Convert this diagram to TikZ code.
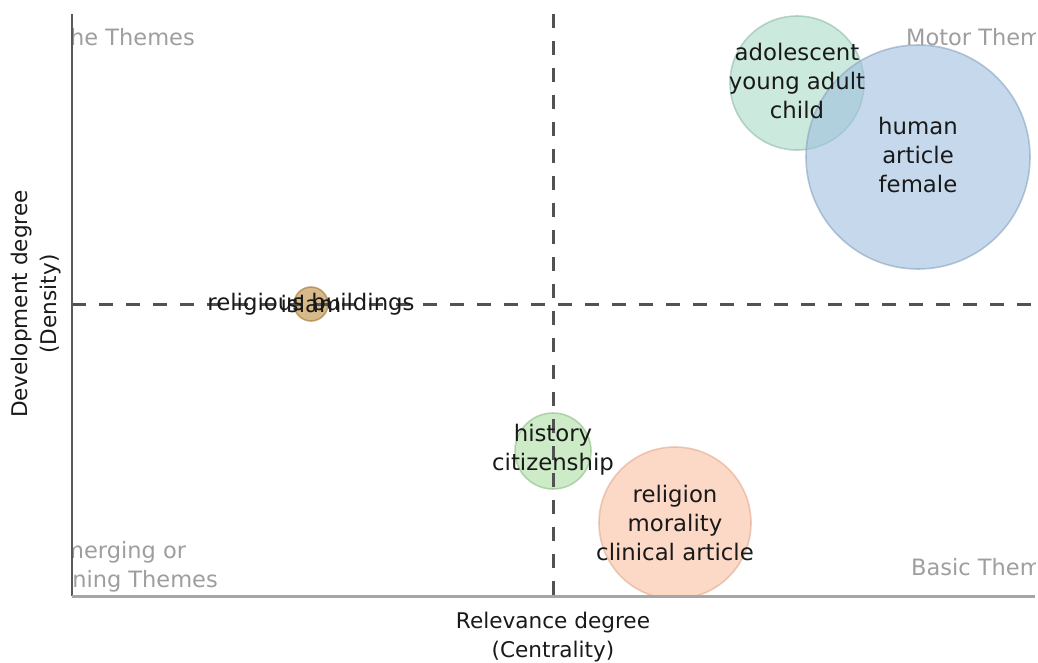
\documentclass[tikz,border=0pt]{standalone}
\usepackage{fontspec}
\setmainfont{DejaVu Sans}
\begin{document}
\begin{tikzpicture}[x=1pt,y=-1pt,
  bub/.style={circle,inner sep=0pt,line width=1.6pt,fill opacity=0.6,draw opacity=0.6},
  lbl/.style={align=center,font=\fontsize{22.8}{29}\selectfont,text=black!90},
  quad/.style={inner sep=0pt,font=\fontsize{22.5}{29}\selectfont,text=black!38},
  axlbl/.style={align=center,font=\fontsize{21.6}{29}\selectfont,text=black!90},
  dashln/.style={draw=black!68,line width=3pt,dash pattern=on 14pt off 13pt}]
\useasboundingbox (0,0) rectangle (1038,662);
\definecolor{tealc}{RGB}{168,220,198}
\definecolor{bluec}{RGB}{160,192,224}
\definecolor{brownc}{RGB}{190,140,60}
\definecolor{greenc}{RGB}{170,222,160}
\definecolor{salmc}{RGB}{250,190,160}
\coordinate (tl) at (72,14);
\coordinate (bl) at (72,596);
\coordinate (br) at (1035,596);
\coordinate (vt) at (553,14);
\coordinate (vb) at (553,596);
\coordinate (hl) at (72,304);
\coordinate (hr) at (1035,304);
\begin{scope}
\clip (72,0) rectangle (1035,597);
\node[quad,anchor=east] (q1) at (195,37) {Niche Themes};
\node[quad,anchor=west] (q2) at (906,37) {Motor Themes};
\node[quad,align=center] (q3) at (117,567) {Emerging or\\Declining Themes};
\node[quad,anchor=west] (q4) at (911,567) {Basic Themes};
\node[bub,fill=tealc,draw=tealc!85!black,minimum size=134pt] (c1) at (797,83) {};
\node[bub,fill=bluec,draw=bluec!85!black,minimum size=224pt] (c2) at (918,157) {};
\node[bub,fill=brownc,draw=brownc!85!black,minimum size=34pt] (c3) at (311,304) {};
\node[bub,fill=greenc,draw=greenc!85!black,minimum size=76pt] (c4) at (553,451) {};
\node[bub,fill=salmc,draw=salmc!90!black,minimum size=152pt] (c5) at (675,523) {};
\end{scope}
\draw[dashln] (vt) -- (vb);
\draw[dashln] (hl) -- (hr);
\draw[black!65,line width=1.8pt] (tl) -- (bl);
\draw[black!35,line width=3pt] (bl) -- (br);
\node[lbl] (t1) at (797,81) {adolescent\\young adult\\child};
\node[lbl] (t2) at (918,155) {human\\article\\female};
\node[lbl] (t3) at (c3) {religious buildings};
\node[lbl] (t3b) at (c3) {islam};
\node[lbl] (t4) at (553,450) {history\\citizenship};
\node[lbl] (t5) at (675,523) {religion\\morality\\clinical article};
\node[axlbl] (xl) at (553,637) {Relevance degree\\(Centrality)};
\node[axlbl,rotate=90] (yl) at (36,304) {Development degree\\(Density)};
\end{tikzpicture}
\end{document}
